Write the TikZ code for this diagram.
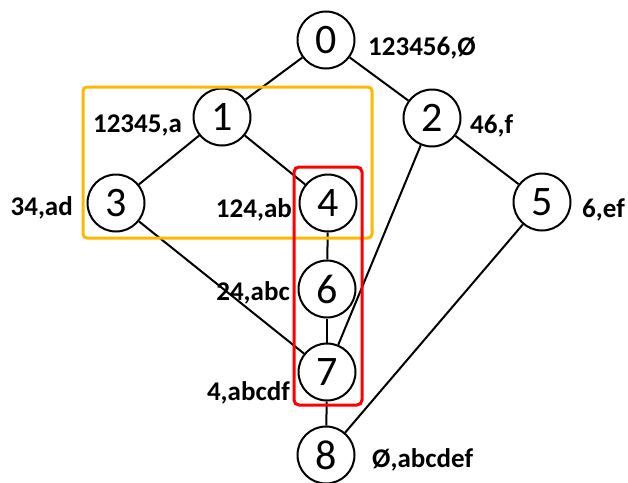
\documentclass[tikz,border=0pt]{standalone}
\usepackage{fontspec}
\setmainfont{Carlito}
\begin{document}
\begin{tikzpicture}[x=1pt,y=-1pt,
  vtx/.style={circle,draw=black,line width=2pt,minimum size=57pt,inner sep=0pt,font=\fontsize{42}{44}\selectfont},
  lbl/.style={font=\fontsize{27}{29}\selectfont\bfseries,inner sep=0pt},
  edge/.style={line width=2pt,black},
  goldbox/.style={draw={rgb,255:red,255;green,184;blue,0},line width=3pt,rounded corners=4pt},
  redbox/.style={draw={rgb,255:red,255;green,0;blue,0},line width=3pt,rounded corners=5pt}]
\useasboundingbox (0,0) rectangle (628,482);
\node[vtx] (n0) at (326,40) {0};
\node[vtx] (n1) at (222,117) {1};
\node[vtx] (n2) at (432,118) {2};
\node[vtx] (n3) at (116,203) {3};
\node[vtx] (n4) at (328,203) {4};
\node[vtx] (n5) at (542,202) {5};
\node[vtx] (n6) at (327,289) {6};
\node[vtx] (n7) at (327,372) {7};
\node[vtx] (n8) at (326,455) {8};
\draw[edge] (n0) -- (n1);
\draw[edge] (n0) -- (n2);
\draw[edge] (n1) -- (n3);
\draw[edge] (n1) -- (n4);
\draw[edge] (n2) -- (n5);
\draw[edge] (n2) -- (n7);
\draw[edge] (n3) -- (n7);
\draw[edge] (n4) -- (n6);
\draw[edge] (n6) -- (n7);
\draw[edge] (n7) -- (n8);
\draw[edge] (n5) -- (n8);
\node[lbl,anchor=base west] (l0) at (368,55) {123456,Ø};
\node[lbl,anchor=base east] (l1) at (182,132) {12345,a};
\node[lbl,anchor=base west] (l2) at (470,133) {46,f};
\node[lbl,anchor=base east] (l3) at (73,215) {34,ad};
\node[lbl,anchor=base east] (l4) at (292,217) {124,ab};
\node[lbl,anchor=base west] (l5) at (582,217) {6,ef};
\node[lbl,anchor=base east] (l6) at (290,300) {24,abc};
\node[lbl,anchor=base east] (l7) at (290,400) {4,abcdf};
\node[lbl,anchor=base west] (l8) at (372,467) {Ø,abcdef};
\draw[goldbox] (83,87) rectangle (372,238);
\draw[redbox] (294,167) rectangle (362,405);
\end{tikzpicture}
\end{document}
